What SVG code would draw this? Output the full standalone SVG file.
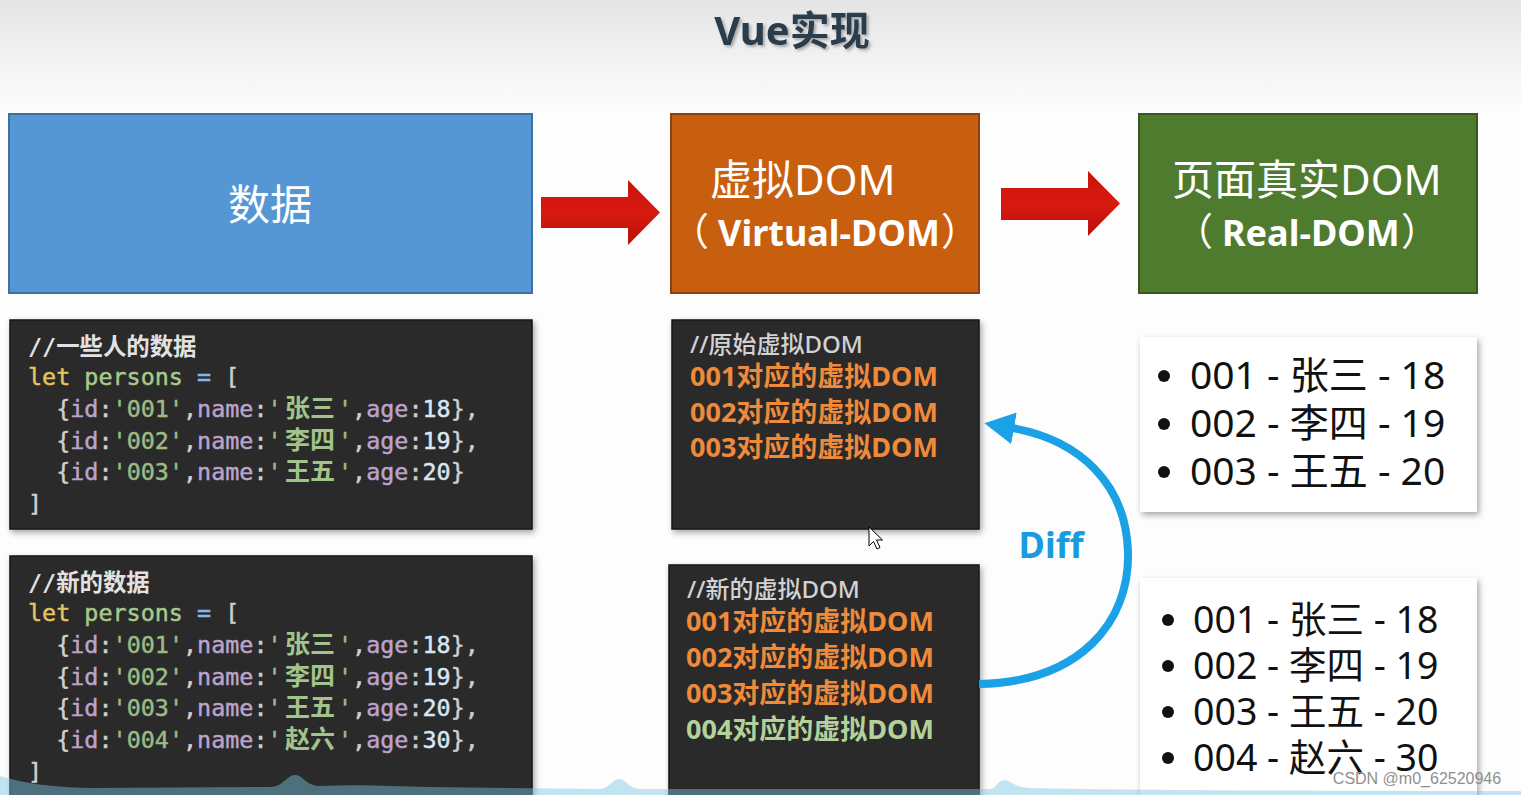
<svg xmlns="http://www.w3.org/2000/svg" width="1521" height="795" viewBox="0 0 1521 795">
<defs>
  <linearGradient id="bgTop" x1="0" y1="0" x2="0" y2="1">
    <stop offset="0" stop-color="#e4e4e4"/>
    <stop offset="1" stop-color="#fdfdfd"/>
  </linearGradient>
  <linearGradient id="redGrad" x1="0" y1="0" x2="0" y2="1">
    <stop offset="0" stop-color="#c8140c"/>
    <stop offset="0.5" stop-color="#d81a10"/>
    <stop offset="1" stop-color="#b8100a"/>
  </linearGradient>
  <filter id="shadow" x="-5%" y="-5%" width="112%" height="115%">
    <feDropShadow dx="2" dy="3" stdDeviation="3" flood-color="#000" flood-opacity="0.35"/>
  </filter>
  <filter id="tshadow" x="-10%" y="-10%" width="130%" height="140%">
    <feDropShadow dx="2" dy="2" stdDeviation="1.5" flood-color="#000" flood-opacity="0.3"/>
  </filter>
  <marker id="blueHead" viewBox="0 0 30 32" refX="2" refY="16" markerWidth="30" markerHeight="32" markerUnits="userSpaceOnUse" orient="auto">
    <path d="M0,0 L30,16 L0,32 Z" fill="#1aa1e6"/>
  </marker>
  <style>
    .ui { font-family: 'Noto Sans', 'Noto Sans CJK SC', sans-serif; }
    .cjk { font-family: 'Noto Sans CJK SC', sans-serif; font-weight: normal; font-size: 38px; }
    .head { fill: #ffffff; font-size: 42px; }
    .sub { fill: #ffffff; font-size: 36px; font-weight: bold; }
    .code { font-family: 'DejaVu Sans Mono', 'Noto Sans CJK SC', monospace; font-size: 23.4px; fill: #d0d0d0; stroke-width: 0.45px; }
    .cm { fill: #e2e2e2; font-weight: bold; stroke: none; }
    .kw { fill: #e3c45e; stroke: #e3c45e; }
    .var { fill: #a9c98b; stroke: #a9c98b; }
    .op { fill: #8ab4e6; stroke: #8ab4e6; }
    .p { fill: #cfcfcf; stroke: #cfcfcf; }
    .k { fill: #bda3cc; stroke: #bda3cc; }
    .s { fill: #9cba86; stroke: #9cba86; }
    .cn { fill: #a2c38b; font-weight: bold; font-size: 25px; stroke: none; }
    .n { fill: #d8e6f4; stroke: #d8e6f4; }
    .vd { font-family: 'Noto Sans', 'Noto Sans CJK SC', sans-serif; font-size: 27px; font-weight: bold; fill: #ef8a3b; }
    .vdc { font-family: 'Noto Sans', 'Noto Sans CJK SC', sans-serif; font-size: 24px; fill: #d2d2d2; font-weight: 500; }
    .vdn { fill: #b3d29b; }
    .li { font-family: 'Noto Sans', 'Noto Sans CJK SC', sans-serif; fill: #111111; }
    .dark { fill: #2b2b2b; stroke: #161616; stroke-width: 1.5; }
  </style>
</defs>

<rect x="0" y="0" width="1521" height="795" fill="#fdfdfd"/>
<rect x="0" y="0" width="1521" height="110" fill="url(#bgTop)"/>

<g id="title">
  <text class="ui" x="792" y="45" text-anchor="middle" font-size="40" font-weight="bold" fill="#2c3c4e" filter="url(#tshadow)">Vue实现</text>
</g>

<g id="node-data">
  <rect x="9" y="114" width="523" height="179" fill="#5597d5" stroke="#3f6f9f" stroke-width="2"/>
  <text class="ui head" x="270" y="220" text-anchor="middle" font-size="44">数据</text>
</g>

<g id="node-vdom">
  <rect x="671" y="114" width="308" height="179" fill="#c85f0e" stroke="#8a4010" stroke-width="2"/>
  <text class="ui head" x="710" y="195">虚拟DOM</text>
  <text class="ui sub" y="246"><tspan class="cjk" x="671" y="245">（</tspan><tspan x="718" y="246">Virtual-DOM</tspan><tspan class="cjk" x="941" y="245">）</tspan></text>
</g>

<g id="node-realdom">
  <rect x="1139" y="114" width="338" height="179" fill="#4f7b2f" stroke="#38571f" stroke-width="2"/>
  <text class="ui head" x="1172" y="195">页面真实DOM</text>
  <text class="ui sub" y="246"><tspan class="cjk" x="1175" y="245">（</tspan><tspan x="1222" y="246">Real-DOM</tspan><tspan class="cjk" x="1401" y="245">）</tspan></text>
</g>

<g id="node-code-old">
  <rect class="dark" x="10" y="320" width="522" height="209" filter="url(#shadow)"/>
  <text class="code" x="28" y="355"><tspan class="cm">//一些人的数据</tspan></text>
  <text class="code" x="28" y="385"><tspan class="kw">let</tspan> <tspan class="var">persons</tspan> <tspan class="op">=</tspan> <tspan class="p">[</tspan></text>
  <text class="code" y="417"><tspan x="56.2" class="p">{</tspan><tspan class="k">id</tspan><tspan class="p">:</tspan><tspan class="s">'001'</tspan><tspan class="p">,</tspan><tspan class="k">name</tspan><tspan class="p">:</tspan><tspan class="s">'</tspan><tspan x="285" class="cn">张三</tspan><tspan x="338" class="s">'</tspan><tspan class="p">,</tspan><tspan class="k">age</tspan><tspan class="p">:</tspan><tspan class="n">18</tspan><tspan class="p">},</tspan></text>
  <text class="code" y="449"><tspan x="56.2" class="p">{</tspan><tspan class="k">id</tspan><tspan class="p">:</tspan><tspan class="s">'002'</tspan><tspan class="p">,</tspan><tspan class="k">name</tspan><tspan class="p">:</tspan><tspan class="s">'</tspan><tspan x="285" class="cn">李四</tspan><tspan x="338" class="s">'</tspan><tspan class="p">,</tspan><tspan class="k">age</tspan><tspan class="p">:</tspan><tspan class="n">19</tspan><tspan class="p">},</tspan></text>
  <text class="code" y="480"><tspan x="56.2" class="p">{</tspan><tspan class="k">id</tspan><tspan class="p">:</tspan><tspan class="s">'003'</tspan><tspan class="p">,</tspan><tspan class="k">name</tspan><tspan class="p">:</tspan><tspan class="s">'</tspan><tspan x="285" class="cn">王五</tspan><tspan x="338" class="s">'</tspan><tspan class="p">,</tspan><tspan class="k">age</tspan><tspan class="p">:</tspan><tspan class="n">20</tspan><tspan class="p">}</tspan></text>
  <text class="code" x="28" y="512"><tspan class="p">]</tspan></text>
</g>

<g id="node-code-new">
  <rect class="dark" x="10" y="556" width="522" height="250" filter="url(#shadow)"/>
  <text class="code" x="28" y="591"><tspan class="cm">//新的数据</tspan></text>
  <text class="code" x="28" y="621"><tspan class="kw">let</tspan> <tspan class="var">persons</tspan> <tspan class="op">=</tspan> <tspan class="p">[</tspan></text>
  <text class="code" y="653"><tspan x="56.2" class="p">{</tspan><tspan class="k">id</tspan><tspan class="p">:</tspan><tspan class="s">'001'</tspan><tspan class="p">,</tspan><tspan class="k">name</tspan><tspan class="p">:</tspan><tspan class="s">'</tspan><tspan x="285" class="cn">张三</tspan><tspan x="338" class="s">'</tspan><tspan class="p">,</tspan><tspan class="k">age</tspan><tspan class="p">:</tspan><tspan class="n">18</tspan><tspan class="p">},</tspan></text>
  <text class="code" y="685"><tspan x="56.2" class="p">{</tspan><tspan class="k">id</tspan><tspan class="p">:</tspan><tspan class="s">'002'</tspan><tspan class="p">,</tspan><tspan class="k">name</tspan><tspan class="p">:</tspan><tspan class="s">'</tspan><tspan x="285" class="cn">李四</tspan><tspan x="338" class="s">'</tspan><tspan class="p">,</tspan><tspan class="k">age</tspan><tspan class="p">:</tspan><tspan class="n">19</tspan><tspan class="p">},</tspan></text>
  <text class="code" y="716"><tspan x="56.2" class="p">{</tspan><tspan class="k">id</tspan><tspan class="p">:</tspan><tspan class="s">'003'</tspan><tspan class="p">,</tspan><tspan class="k">name</tspan><tspan class="p">:</tspan><tspan class="s">'</tspan><tspan x="285" class="cn">王五</tspan><tspan x="338" class="s">'</tspan><tspan class="p">,</tspan><tspan class="k">age</tspan><tspan class="p">:</tspan><tspan class="n">20</tspan><tspan class="p">},</tspan></text>
  <text class="code" y="748"><tspan x="56.2" class="p">{</tspan><tspan class="k">id</tspan><tspan class="p">:</tspan><tspan class="s">'004'</tspan><tspan class="p">,</tspan><tspan class="k">name</tspan><tspan class="p">:</tspan><tspan class="s">'</tspan><tspan x="285" class="cn">赵六</tspan><tspan x="338" class="s">'</tspan><tspan class="p">,</tspan><tspan class="k">age</tspan><tspan class="p">:</tspan><tspan class="n">30</tspan><tspan class="p">},</tspan></text>
  <text class="code" x="28" y="780"><tspan class="p">]</tspan></text>
</g>

<g id="node-vdom-old">
  <rect class="dark" x="672" y="320" width="307" height="209" filter="url(#shadow)"/>
  <text class="vdc" x="690" y="353">//原始虚拟DOM</text>
  <text class="vd" x="690" y="386">001对应的虚拟DOM</text>
  <text class="vd" x="690" y="422">002对应的虚拟DOM</text>
  <text class="vd" x="690" y="457">003对应的虚拟DOM</text>
</g>

<g id="node-vdom-new">
  <rect class="dark" x="669" y="565" width="310" height="245" filter="url(#shadow)"/>
  <text class="vdc" x="687" y="598">//新的虚拟DOM</text>
  <text class="vd" x="686" y="631">001对应的虚拟DOM</text>
  <text class="vd" x="686" y="667">002对应的虚拟DOM</text>
  <text class="vd" x="686" y="703">003对应的虚拟DOM</text>
  <text class="vd vdn" x="686" y="739">004对应的虚拟DOM</text>
</g>

<g id="node-list-old">
  <rect x="1140" y="337" width="337" height="175" fill="#ffffff" filter="url(#shadow)"/>
  <circle cx="1164" cy="376" r="6" fill="#111"/>
  <circle cx="1164" cy="424" r="6" fill="#111"/>
  <circle cx="1164" cy="472" r="6" fill="#111"/>
  <text class="li" x="1190" y="389" font-size="39">001 - 张三 - 18</text>
  <text class="li" x="1190" y="437" font-size="39">002 - 李四 - 19</text>
  <text class="li" x="1190" y="485" font-size="39">003 - 王五 - 20</text>
</g>

<g id="node-list-new">
  <rect x="1140" y="578" width="337" height="230" fill="#ffffff" filter="url(#shadow)"/>
  <circle cx="1168" cy="620" r="6" fill="#111"/>
  <circle cx="1168" cy="666" r="6" fill="#111"/>
  <circle cx="1168" cy="712" r="6" fill="#111"/>
  <circle cx="1168" cy="758" r="6" fill="#111"/>
  <text class="li" x="1193" y="633" font-size="37.5">001 - 张三 - 18</text>
  <text class="li" x="1193" y="679" font-size="37.5">002 - 李四 - 19</text>
  <text class="li" x="1193" y="725" font-size="37.5">003 - 王五 - 20</text>
  <text class="li" x="1193" y="771" font-size="37.5">004 - 赵六 - 30</text>
</g>

<g id="connectors">
  <polygon points="541,197 628,197 628,180 660,212.5 628,245 628,228 541,228" fill="url(#redGrad)"/>
  <polygon points="1001,188 1088,188 1088,171 1120,203.5 1088,236 1088,220 1001,220" fill="url(#redGrad)"/>
  <path d="M979,684 C1080,682 1130,622 1128,552 C1126,484 1080,440 1012,428" fill="none" stroke="#1aa1e6" stroke-width="8" marker-end="url(#blueHead)"/>
  <text class="ui" x="1051" y="558" text-anchor="middle" font-size="36" font-weight="bold" fill="#1a9be0">Diff</text>
</g>

<g id="cursor">
  <polygon points="869,527 869,546 873.5,541.5 877,549 880,547.5 876.5,540 882.5,540" fill="#ffffff" stroke="#000000" stroke-width="1"/>
</g>

<g id="footer">
  <path d="M0,776 C20,782 45,787 90,788 L270,787 C283,787 287,775 295,775 C303,775 306,786 320,786 C360,784 390,786 430,787 L600,789 C609,789 612,779 619,779 C626,779 629,789 640,789 L990,789 C996,789 998,780 1004,780 C1011,780 1015,788 1030,788 C1100,790 1300,791 1521,791 L1521,795 L0,795 Z" fill="#78c6df" fill-opacity="0.45"/>
  <text x="1417" y="784" text-anchor="middle" font-family="'Liberation Sans', sans-serif" font-size="16" fill="#8f8f8f">CSDN @m0_62520946</text>
</g>
</svg>
